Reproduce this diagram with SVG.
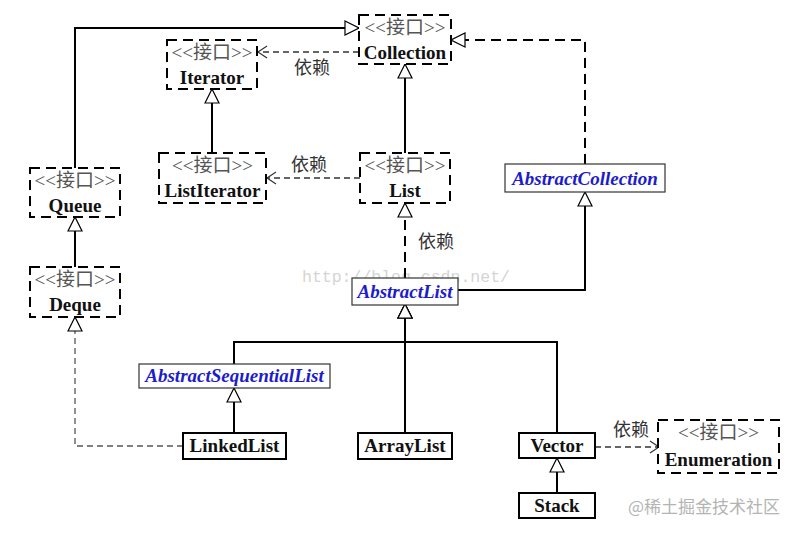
<svg xmlns="http://www.w3.org/2000/svg" width="795" height="534" viewBox="0 0 795 534">
<defs>
<marker id="tri" markerUnits="userSpaceOnUse" markerWidth="16" markerHeight="16" viewBox="-1 -1 16 16" refX="14" refY="7" orient="auto">
<path d="M0,0 L14,7 L0,14 Z" fill="#fff" stroke="#000" stroke-width="1.2"/>
</marker>
<marker id="open" markerUnits="userSpaceOnUse" markerWidth="12" markerHeight="14" viewBox="-1 -1 12 14" refX="9" refY="6" orient="auto">
<path d="M0,0 L9,6 L0,12" fill="none" stroke="#333" stroke-width="1.2"/>
</marker>
</defs>
<style>
.bg{fill:#fff}
.iface{fill:#fff;stroke:#000;stroke-width:2;stroke-dasharray:10,6}
.cls{fill:#fff;stroke:#000;stroke-width:2}
.abs{fill:#fff;stroke:#333;stroke-width:1.2}
.st{font-family:"Liberation Serif","Noto Sans CJK SC",serif;font-size:19px;fill:#555;text-anchor:middle}
.nm{font-family:"Liberation Serif","Noto Sans CJK SC",serif;font-size:19px;font-weight:bold;fill:#111;text-anchor:middle}
.an{font-family:"Liberation Serif","Noto Sans CJK SC",serif;font-size:19px;font-weight:bold;font-style:italic;fill:#1c1ccc;text-anchor:middle}
.lbl{font-family:"Liberation Serif","Noto Sans CJK SC",serif;font-size:18px;fill:#333;text-anchor:middle}
.gen{fill:none;stroke:#000;stroke-width:2}
.real{fill:none;stroke:#000;stroke-width:2;stroke-dasharray:10,6}
.dep{fill:none;stroke:#333;stroke-width:1.3;stroke-dasharray:6,4}
.wm{font-family:"Liberation Mono",monospace;font-size:16.5px;fill:#d4d4d4}
.wm2{font-family:"Noto Sans CJK SC","Noto Sans",sans-serif;font-size:17px;fill:#b4b4b4}
</style>
<rect class="bg" x="0" y="0" width="795" height="534"/>
<text class="wm" x="302" y="282">http://blog.csdn.net/</text>
<g id="connectors">
<path class="gen" d="M75,168 V28 H359" marker-end="url(#tri)"/>
<path class="real" d="M585,164 V40 H451" marker-end="url(#tri)"/>
<path class="dep" d="M359,52 H258" marker-end="url(#open)"/>
<path class="gen" d="M212,153 V89" marker-end="url(#tri)"/>
<path class="gen" d="M405,153 V64" marker-end="url(#tri)"/>
<path class="dep" d="M360,178 H267" marker-end="url(#open)"/>
<path class="real" d="M405,278 V203" marker-end="url(#tri)"/>
<path class="gen" d="M458,290 H585 V192" marker-end="url(#tri)"/>
<path class="gen" d="M234,364 V342 H405 V304" marker-end="url(#tri)"/>
<path class="gen" d="M405,433 V304" marker-end="url(#tri)"/>
<path class="gen" d="M557,433 V342 H405 V304" marker-end="url(#tri)"/>
<path class="gen" d="M234,433 V388" marker-end="url(#tri)"/>
<path class="dep" style="stroke:#555" d="M183,446 H75 V317" marker-end="url(#tri)"/>
<path class="gen" d="M75,267 V217" marker-end="url(#tri)"/>
<path class="gen" d="M557,493 V458" marker-end="url(#tri)"/>
<path class="dep" d="M595,447 H659" marker-end="url(#open)"/>
<text class="lbl" x="312" y="74">依赖</text>
<text class="lbl" x="309" y="171">依赖</text>
<text class="lbl" x="436" y="248">依赖</text>
<text class="lbl" x="631" y="436">依赖</text>
</g>
<g id="Collection">
<rect class="iface" x="359" y="15" width="92" height="49"/>
<text class="st" x="405" y="34">&lt;&lt;接口&gt;&gt;</text>
<text class="nm" x="405" y="59">Collection</text>
</g>
<g id="Iterator">
<rect class="iface" x="167" y="40" width="90" height="49"/>
<text class="st" x="212" y="59">&lt;&lt;接口&gt;&gt;</text>
<text class="nm" x="212" y="84">Iterator</text>
</g>
<g id="ListIterator">
<rect class="iface" x="159" y="153" width="107" height="50"/>
<text class="st" x="212.5" y="172">&lt;&lt;接口&gt;&gt;</text>
<text class="nm" x="212.5" y="197">ListIterator</text>
</g>
<g id="List">
<rect class="iface" x="360" y="153" width="90" height="50"/>
<text class="st" x="405" y="172">&lt;&lt;接口&gt;&gt;</text>
<text class="nm" x="405" y="197">List</text>
</g>
<g id="Queue">
<rect class="iface" x="30" y="168" width="90" height="49"/>
<text class="st" x="75" y="187">&lt;&lt;接口&gt;&gt;</text>
<text class="nm" x="75" y="212">Queue</text>
</g>
<g id="Deque">
<rect class="iface" x="30" y="267" width="90" height="50"/>
<text class="st" x="75" y="286">&lt;&lt;接口&gt;&gt;</text>
<text class="nm" x="75" y="311">Deque</text>
</g>
<g id="Enumeration">
<rect class="iface" x="658" y="420" width="121" height="53"/>
<text class="st" x="718.5" y="439">&lt;&lt;接口&gt;&gt;</text>
<text class="nm" x="718.5" y="466">Enumeration</text>
</g>
<g id="AbstractCollection">
<rect class="abs" x="505" y="164" width="160" height="28"/>
<text class="an" x="585" y="185">AbstractCollection</text>
</g>
<g id="AbstractList">
<rect class="abs" x="352" y="278" width="106" height="27"/>
<text class="an" x="405" y="298">AbstractList</text>
</g>
<g id="AbstractSequentialList">
<rect class="abs" x="139" y="364" width="191" height="24"/>
<text class="an" x="234.5" y="382">AbstractSequentialList</text>
</g>
<g id="LinkedList">
<rect class="cls" x="183" y="433" width="103" height="26"/>
<text class="nm" x="234.5" y="452">LinkedList</text>
</g>
<g id="ArrayList">
<rect class="cls" x="358" y="433" width="94" height="26"/>
<text class="nm" x="405" y="452">ArrayList</text>
</g>
<g id="Vector">
<rect class="cls" x="519" y="433" width="76" height="25"/>
<text class="nm" x="557" y="452">Vector</text>
</g>
<g id="Stack">
<rect class="cls" x="519" y="493" width="76" height="25"/>
<text class="nm" x="557" y="512">Stack</text>
</g>
<text class="wm2" x="628" y="513">@稀土掘金技术社区</text>
</svg>
